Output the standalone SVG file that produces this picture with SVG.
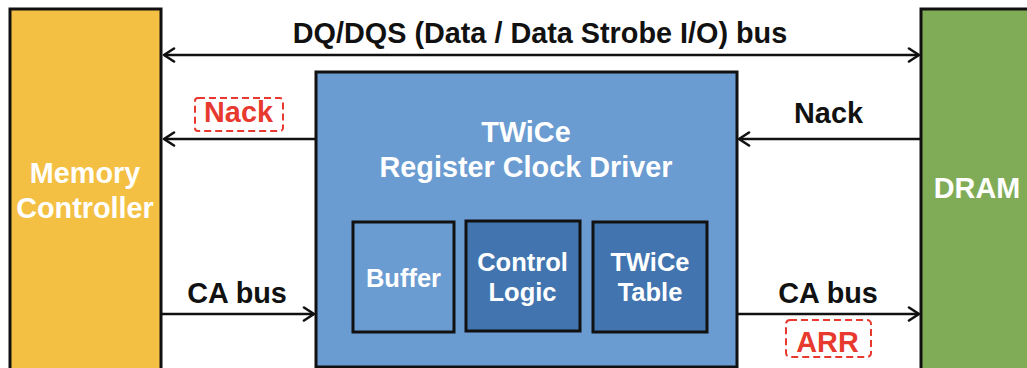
<svg xmlns="http://www.w3.org/2000/svg" width="1027" height="368" viewBox="0 0 1027 368">
  <style>
    .box { stroke: #111; stroke-width: 3; }
    .mc { fill: #F4C043; }
    .dram { fill: #80AC57; }
    .rcd { fill: #6A9BD1; }
    .inner-dark { fill: #4275B0; }
    .wire { stroke: #111; stroke-width: 2.6; fill: none; }
    .lbl { font-family: "Liberation Sans", Arial, sans-serif; font-weight: bold; text-anchor: middle; }
    .big { font-size: 28.8px; }
    .small { font-size: 25.5px; }
    .white { fill: #fff; }
    .black { fill: #111; }
    .red { fill: #E8392E; }
    .tag { fill: none; stroke: #E8392E; stroke-width: 2; stroke-dasharray: 7 4; }
  </style>
  <defs>
    <marker id="chev" markerUnits="userSpaceOnUse" markerWidth="16" markerHeight="16" refX="12" refY="8" orient="auto-start-reverse" viewBox="0 0 16 16">
      <path d="M2,1.5 L12,8 L2,14.5" fill="none" stroke="#111" stroke-width="2.6" stroke-linecap="round" stroke-linejoin="round"/>
    </marker>
  </defs>
  <rect width="1027" height="368" fill="#fff"/>

  <!-- connectors -->
  <g id="connectors">
    <line class="wire" x1="164" y1="55" x2="919" y2="55" marker-start="url(#chev)" marker-end="url(#chev)"/>
    <line class="wire" x1="316" y1="139" x2="164" y2="139" marker-end="url(#chev)"/>
    <line class="wire" x1="921" y1="139" x2="739" y2="139" marker-end="url(#chev)"/>
    <line class="wire" x1="162" y1="314" x2="314" y2="314" marker-end="url(#chev)"/>
    <line class="wire" x1="737" y1="314" x2="919" y2="314" marker-end="url(#chev)"/>
    <text class="lbl big black" x="540" y="43">DQ/DQS (Data / Data Strobe I/O) bus</text>
    <rect class="tag" x="195" y="98" width="88" height="33" rx="3"/>
    <text class="lbl big red" x="238.5" y="122">Nack</text>
    <text class="lbl big black" x="828.5" y="123">Nack</text>
    <text class="lbl big black" x="237" y="303">CA bus</text>
    <text class="lbl big black" x="828" y="303">CA bus</text>
    <rect class="tag" x="786" y="320" width="85" height="37" rx="4"/>
    <text class="lbl big red" x="827.5" y="352">ARR</text>
  </g>

  <!-- memory controller -->
  <g id="memory-controller">
    <rect class="box mc" x="10" y="9" width="151" height="370"/>
    <text class="lbl big white" x="85" y="183">Memory</text>
    <text class="lbl big white" x="85" y="218">Controller</text>
  </g>

  <!-- DRAM -->
  <g id="dram">
    <rect class="box dram" x="921" y="9" width="120" height="370"/>
    <text class="lbl big white" x="977" y="198">DRAM</text>
  </g>

  <!-- register clock driver -->
  <g id="rcd">
    <rect class="box rcd" x="316" y="72" width="421" height="295"/>
    <text class="lbl big white" x="526" y="142">TWiCe</text>
    <text class="lbl big white" x="526" y="177">Register Clock Driver</text>
  </g>

  <g id="buffer">
    <rect class="box rcd" x="353" y="222" width="101" height="110"/>
    <text class="lbl small white" x="403.5" y="287">Buffer</text>
  </g>

  <g id="control-logic">
    <rect class="box inner-dark" x="466" y="221" width="114" height="110"/>
    <text class="lbl small white" x="522.5" y="271">Control</text>
    <text class="lbl small white" x="522.5" y="301">Logic</text>
  </g>

  <g id="twice-table">
    <rect class="box inner-dark" x="593" y="222" width="114" height="110"/>
    <text class="lbl small white" x="650" y="271">TWiCe</text>
    <text class="lbl small white" x="650" y="301">Table</text>
  </g>
</svg>
